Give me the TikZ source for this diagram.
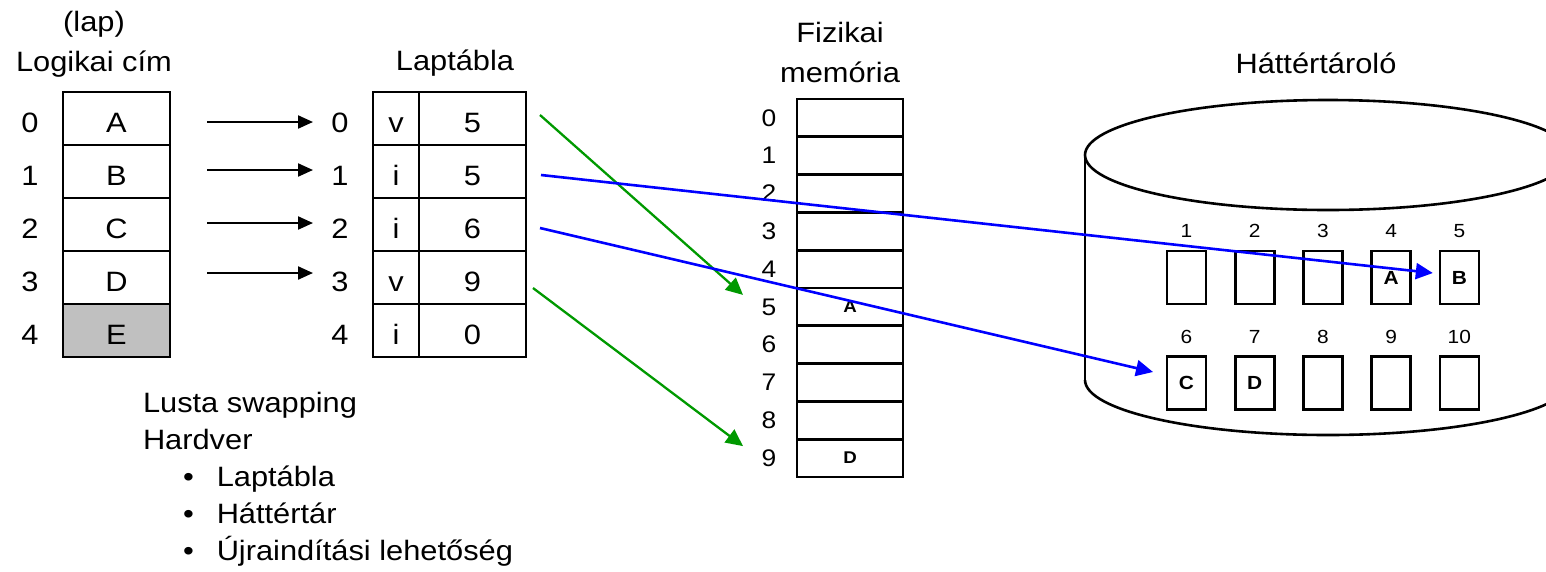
\documentclass[tikz,border=0pt]{standalone}
\usepackage{fontspec}
\setmainfont{Liberation Sans}[FakeStretch=1.1]
\usetikzlibrary{arrows.meta}
\definecolor{grn}{RGB}{0,153,0}
\definecolor{blu}{RGB}{0,0,255}
\definecolor{shade}{RGB}{192,192,192}
\begin{document}
\begin{tikzpicture}[x=1pt,y=-1pt,
  every node/.style={inner sep=0pt, outer sep=0pt},
  big/.style={font=\fontsize{28}{40}\selectfont},
  lowt/.style={text height=27pt, text depth=0pt},
  mid/.style={font=\fontsize{24}{28}\selectfont},
  small/.style={font=\fontsize{19}{22}\selectfont},
  cell/.style={draw, line width=2.9pt, big, lowt, minimum width=107pt, minimum height=53pt},
  flagc/.style={draw, line width=2.9pt, big, lowt, minimum width=46pt, minimum height=53pt},
  memc/.style={draw, line width=2.9pt, font=\fontsize{17}{19}\selectfont\bfseries, minimum width=106pt, minimum height=37.8pt},
  dbox/.style={draw, line width=2.6pt, font=\fontsize{19}{22}\selectfont\bfseries, minimum width=39pt, minimum height=53pt},
  blk/.style={line width=2.2pt, -{Triangle[length=15pt,width=13pt]}},
  garr/.style={draw=grn, line width=2.3pt, -{Triangle[length=17pt,width=16pt]}, grn},
  barr/.style={draw=blu, line width=2.6pt, -{Triangle[length=17pt,width=16pt]}, blu}]
\useasboundingbox (0,0) rectangle (1546,571);

% headers
\node[big, align=center] (hlog) at (94,44) {(lap)\\Logikai cím};
\node[big] (hlap) at (455,63) {Laptábla};
\node[big, align=center] (hmem) at (840,52) {Fizikai\\memória};
\node[big] (hdisk) at (1316,63) {Háttértároló};

% logical pages
\foreach \t [count=\i from 0] in {A,B,C,D} {
  \node[cell] (l\i) at (116.5,{118.5+53*\i}) {\t};
  \node[big, lowt] (r\i) at (30,{118.5+53*\i}) {\i};
}
\node[cell, fill=shade] (l4) at (116.5,{118.5+53*4}) {E};
\node[big, lowt] (r4) at (30,{118.5+53*4}) {4};

% page table
\foreach \f/\v [count=\i from 0] in {v/5,i/5,i/6,v/9,i/0} {
  \node[flagc] (f\i) at (396,{118.5+53*\i}) {\f};
  \node[cell] (v\i) at (472.5,{118.5+53*\i}) {\v};
  \node[big, lowt] (t\i) at (340,{118.5+53*\i}) {\i};
}

% physical memory
\foreach \c [count=\i from 0] in {{},{},{},{},{},A,{},{},{},D} {
  \node[memc] (m\i) at (850,{99+37.8*(\i+0.5)}) {\c};
  \node[mid] (n\i) at (769,{99+37.8*(\i+0.5)}) {\i};
}

% disk cylinder
\draw[line width=2.6pt] (1328,155) ellipse [x radius=243, y radius=55];
\draw[line width=2.6pt] (1085,155) -- (1085,380);
\begin{scope}
  \clip (1000,380) rectangle (1546,571);
  \draw[line width=2.6pt] (1328,380) ellipse [x radius=243, y radius=55];
\end{scope}

% disk blocks
\foreach \c [count=\k from 0] in {{},{},{},A,B} {
  \pgfmathtruncatemacro\n{\k+1}
  \node[dbox] (d\n) at ({1186.5+68.2*\k},277.5) {\c};
  \node[small] (dl\n) at ({1186.5+68.2*\k},231) {\n};
}
\foreach \c [count=\k from 0] in {C,D,{},{},{}} {
  \pgfmathtruncatemacro\n{\k+6}
  \node[dbox] (d\n) at ({1186.5+68.2*\k},383) {\c};
  \node[small] (dl\n) at ({1186.5+68.2*\k},337) {\n};
}

% notes
\node[big, anchor=north west, align=left, font=\fontsize{28}{37}\selectfont] (notes) at (143,392)
  {Lusta swapping\\Hardver\\
   \hspace*{40pt}\textbullet\hspace*{23pt}Laptábla\\
   \hspace*{40pt}\textbullet\hspace*{23pt}Háttértár\\
   \hspace*{40pt}\textbullet\hspace*{23pt}Újraindítási lehetőség};

% black arrows
\draw[blk] ([shift={(37,3.5)}]l0.east) -- ([shift={(-27,3.5)}]t0.center);
\draw[blk] ([shift={(37,-1.5)}]l1.east) -- ([shift={(-27,-1.5)}]t1.center);
\draw[blk] ([shift={(37,-1.5)}]l2.east) -- ([shift={(-27,-1.5)}]t2.center);
\draw[blk] ([shift={(37,-4.5)}]l3.east) -- ([shift={(-27,-4.5)}]t3.center);

% green arrows
\draw[garr] ([shift={(14,-3.5)}]v0.east) -- ([shift={(-54,-12)}]m5.west);
\draw[garr] ([shift={(7,10.5)}]v3.east) -- ([shift={(-54,-12)}]m9.west);

% blue arrows
\draw[barr] ([shift={(15,3.5)}]v1.east) -- ([shift={(-7,-4.5)}]d5.west);
\draw[barr] ([shift={(14,3.5)}]v2.east) -- ([shift={(-14,-11)}]d6.west);
\end{tikzpicture}
\end{document}
